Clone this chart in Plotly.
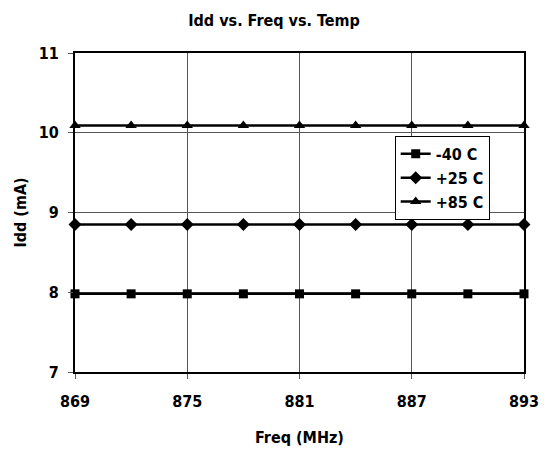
import plotly.graph_objects as go

freq = [869, 872, 875, 878, 881, 884, 887, 890, 893]
idd_m40 = [7.98, 7.98, 7.98, 7.98, 7.98, 7.98, 7.98, 7.98, 7.98]
idd_p25 = [8.85, 8.85, 8.85, 8.85, 8.85, 8.85, 8.85, 8.85, 8.85]
idd_p85 = [10.09, 10.09, 10.09, 10.09, 10.09, 10.09, 10.09, 10.09, 10.09]
series_names = ["-40 C", "+25 C", "+85 C"]
x_ticks = [869, 875, 881, 887, 893]
y_ticks = [7, 8, 9, 10, 11]

FONT = "DejaVu Sans Condensed, Liberation Sans Narrow, Arial Narrow, sans-serif"

fig = go.Figure()
for name, vals, sym, size in [
    (series_names[0], idd_m40, "square", 9),
    (series_names[1], idd_p25, "diamond", 10),
    (series_names[2], idd_p85, "triangle-up", 10),
]:
    fig.add_trace(go.Scatter(
        x=freq, y=vals, name=f"<b>{name}</b>", mode="lines+markers",
        line=dict(color="black", width=2.5),
        marker=dict(symbol=sym, size=size, color="black"),
        cliponaxis=False,
    ))

fig.update_layout(
    width=548, height=453,
    margin=dict(l=75, r=24, t=53, b=81, autoexpand=False),
    paper_bgcolor="white", plot_bgcolor="white",
    font=dict(family=FONT, size=16, color="black"),
    title=dict(text="<b>Idd vs. Freq vs. Temp</b>", x=0.5, xanchor="center",
               y=0.955, yanchor="middle", font=dict(size=16, family=FONT)),
    showlegend=True,
    legend=dict(x=0.712, y=0.74, xanchor="left", yanchor="top",
                bgcolor="white", bordercolor="black", borderwidth=1,
                font=dict(size=16, family=FONT), tracegroupgap=0,
                itemwidth=30, entrywidth=80, entrywidthmode="pixels"),
    xaxis=dict(range=[869, 893], tickvals=x_ticks, ticktext=[f"<b>{v}</b>" for v in x_ticks],
               showgrid=True, gridcolor="#555555", gridwidth=1,
               showline=True, linecolor="black", linewidth=2, mirror=True,
               ticks="outside", ticklen=5, tickcolor="#555555",
               ticklabelstandoff=9,
               zeroline=False, automargin=False,
               title=dict(text="<b>Freq (MHz)</b>", font=dict(size=16), standoff=22)),
    yaxis=dict(range=[7, 11], tickvals=y_ticks, ticktext=[f"<b>{v}</b>" for v in y_ticks],
               showgrid=True, gridcolor="#555555", gridwidth=1,
               showline=True, linecolor="black", linewidth=2, mirror=True,
               ticks="outside", ticklen=5, tickcolor="#555555",
               ticklabelstandoff=6,
               zeroline=False, automargin=False,
               title=dict(text="<b>Idd (mA)</b>", font=dict(size=16), standoff=8)),
)

fig.write_html("out.html", config={"displayModeBar": False},
               post_script="document.body.style.margin='0';")
